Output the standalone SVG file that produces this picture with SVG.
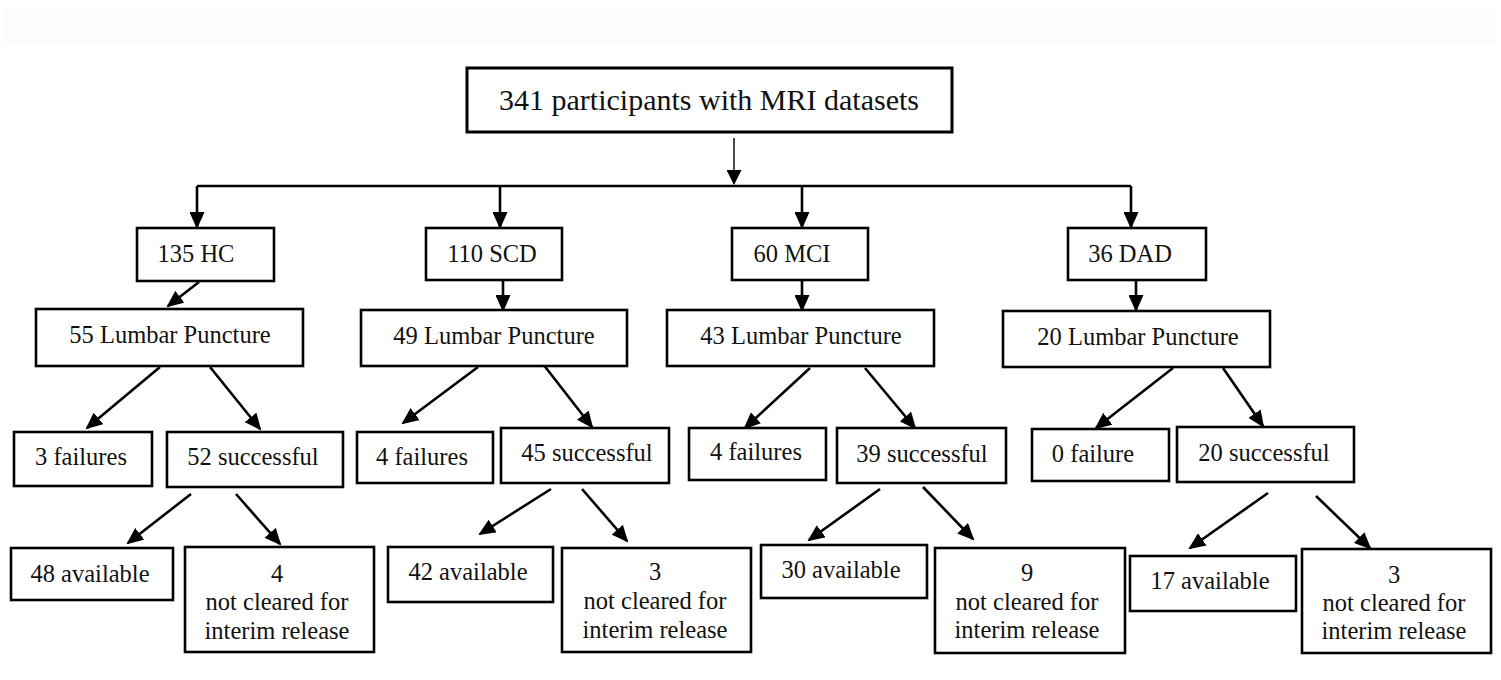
<svg xmlns="http://www.w3.org/2000/svg" width="1501" height="680" viewBox="0 0 1501 680">
<style>
.box{fill:#fff;stroke:#000;stroke-width:2.6}
.t{font-family:"Liberation Serif","Times New Roman",serif;font-size:24.5px;fill:#111;text-anchor:middle}
.big{font-size:30px}
.c{stroke:#000;stroke-width:2.6;fill:none}
.a{marker-end:url(#ah)}
.thin{stroke-width:1.4}
</style>
<defs>
<marker id="ah" markerUnits="userSpaceOnUse" markerWidth="17" markerHeight="15" viewBox="0 0 17 15" refX="15" refY="7.5" orient="auto">
<path d="M0,0 L17,7.5 L0,15 z" fill="#000"/>
</marker>
<marker id="ahs" markerUnits="userSpaceOnUse" markerWidth="15" markerHeight="15" viewBox="0 0 15 15" refX="14" refY="7.5" orient="auto">
<path d="M0,0 L15,7.5 L0,15 z" fill="#000"/>
</marker>
</defs>
<rect width="1501" height="680" fill="#fff"/>
<rect x="3" y="7" width="1494" height="36" fill="#fcfcfd"/>

<g id="connectors">
<line class="c thin" x1="734" y1="138" x2="734" y2="184" marker-end="url(#ahs)"/>
<line class="c" x1="197" y1="186" x2="1131" y2="186"/>
<line class="c a" x1="197" y1="186" x2="197" y2="227"/>
<line class="c a" x1="500" y1="186" x2="500" y2="227"/>
<line class="c a" x1="802" y1="186" x2="802" y2="227"/>
<line class="c a" x1="1131" y1="186" x2="1131" y2="227"/>
<line class="c a" x1="199" y1="282" x2="168" y2="306"/>
<line class="c a" x1="503" y1="276" x2="503" y2="310"/>
<line class="c a" x1="802" y1="280" x2="802" y2="310"/>
<line class="c a" x1="1136" y1="276" x2="1136" y2="310"/>
<line class="c a" x1="160" y1="367" x2="87" y2="428"/>
<line class="c a" x1="210" y1="367" x2="260" y2="429"/>
<line class="c a" x1="478" y1="367" x2="403" y2="423"/>
<line class="c a" x1="543" y1="364" x2="592" y2="427"/>
<line class="c a" x1="810" y1="368" x2="745" y2="428"/>
<line class="c a" x1="865" y1="368" x2="915" y2="428"/>
<line class="c a" x1="1173" y1="368" x2="1096" y2="428"/>
<line class="c a" x1="1223" y1="368" x2="1263" y2="426"/>
<line class="c a" x1="191" y1="494" x2="128" y2="543"/>
<line class="c a" x1="236" y1="494" x2="280" y2="544"/>
<line class="c a" x1="551" y1="489" x2="480" y2="534"/>
<line class="c a" x1="582" y1="489" x2="627" y2="541"/>
<line class="c a" x1="880" y1="489" x2="809" y2="540"/>
<line class="c a" x1="923" y1="487" x2="973" y2="539"/>
<line class="c a" x1="1268" y1="493" x2="1190" y2="548"/>
<line class="c a" x1="1316" y1="496" x2="1370" y2="548"/>
</g>

<g id="root"><rect class="box" x="467" y="68" width="485" height="64" style="stroke-width:3"/><text class="t big" x="709" y="110">341 participants with MRI datasets</text></g>

<g id="hc"><rect class="box" x="137" y="228" width="137" height="53"/><text class="t" x="196" y="262">135 HC</text></g>
<g id="scd"><rect class="box" x="426" y="228" width="136" height="52"/><text class="t" x="492" y="262">110 SCD</text></g>
<g id="mci"><rect class="box" x="732" y="228" width="136" height="52"/><text class="t" x="792" y="262">60 MCI</text></g>
<g id="dad"><rect class="box" x="1068" y="228" width="138" height="52"/><text class="t" x="1130" y="262">36 DAD</text></g>

<g id="lp-hc"><rect class="box" x="36" y="309" width="267" height="57"/><text class="t" x="170" y="343">55 Lumbar Puncture</text></g>
<g id="lp-scd"><rect class="box" x="361" y="310" width="266" height="56"/><text class="t" x="494" y="344">49 Lumbar Puncture</text></g>
<g id="lp-mci"><rect class="box" x="667" y="310" width="267" height="56"/><text class="t" x="801" y="344">43 Lumbar Puncture</text></g>
<g id="lp-dad"><rect class="box" x="1003" y="311" width="267" height="56"/><text class="t" x="1138" y="345">20 Lumbar Puncture</text></g>

<g id="fail-hc"><rect class="box" x="14" y="432" width="138" height="54"/><text class="t" x="81" y="465">3 failures</text></g>
<g id="succ-hc"><rect class="box" x="167" y="432" width="176" height="55"/><text class="t" x="253" y="465">52 successful</text></g>
<g id="fail-scd"><rect class="box" x="357" y="432" width="136" height="51"/><text class="t" x="422" y="465">4 failures</text></g>
<g id="succ-scd"><rect class="box" x="501" y="428" width="168" height="55"/><text class="t" x="587" y="461">45 successful</text></g>
<g id="fail-mci"><rect class="box" x="689" y="428" width="137" height="52"/><text class="t" x="756" y="460">4 failures</text></g>
<g id="succ-mci"><rect class="box" x="837" y="428" width="169" height="55"/><text class="t" x="922" y="462">39 successful</text></g>
<g id="fail-dad"><rect class="box" x="1032" y="429" width="137" height="52"/><text class="t" x="1093" y="462">0 failure</text></g>
<g id="succ-dad"><rect class="box" x="1177" y="427" width="177" height="55"/><text class="t" x="1264" y="461">20 successful</text></g>

<g id="avail-hc"><rect class="box" x="11" y="548" width="162" height="52"/><text class="t" x="90" y="582">48 available</text></g>
<g id="nc-hc"><rect class="box" x="185" y="547" width="189" height="105"/><text class="t" x="277" y="582">4</text><text class="t" x="277" y="610">not cleared for</text><text class="t" x="277" y="638.5">interim release</text></g>
<g id="avail-scd"><rect class="box" x="388" y="547" width="165" height="55"/><text class="t" x="468" y="579.5">42 available</text></g>
<g id="nc-scd"><rect class="box" x="562" y="548" width="189" height="104"/><text class="t" x="655" y="580">3</text><text class="t" x="655" y="609">not cleared for</text><text class="t" x="655" y="637.5">interim release</text></g>
<g id="avail-mci"><rect class="box" x="761" y="545" width="166" height="53"/><text class="t" x="841" y="577.5">30 available</text></g>
<g id="nc-mci"><rect class="box" x="935" y="548" width="190" height="105"/><text class="t" x="1027" y="581">9</text><text class="t" x="1027" y="609.5">not cleared for</text><text class="t" x="1027" y="638">interim release</text></g>
<g id="avail-dad"><rect class="box" x="1130" y="556" width="166" height="55"/><text class="t" x="1210" y="588.5">17 available</text></g>
<g id="nc-dad"><rect class="box" x="1302" y="549" width="189" height="104"/><text class="t" x="1394" y="583">3</text><text class="t" x="1394" y="611">not cleared for</text><text class="t" x="1394" y="638.5">interim release</text></g>
</svg>
